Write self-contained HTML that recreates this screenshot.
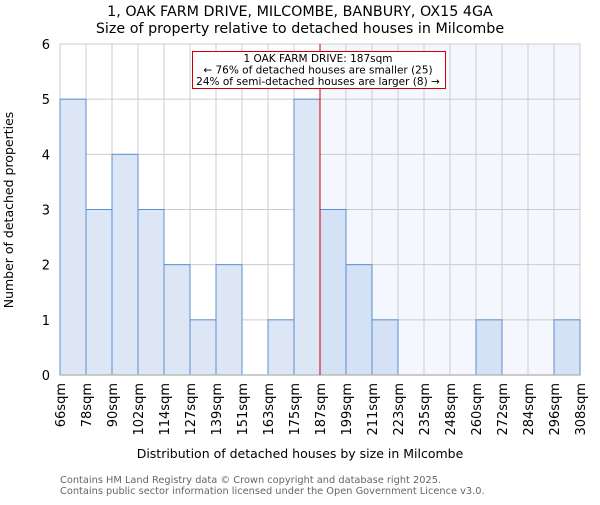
<!DOCTYPE html>
<html><head><meta charset="utf-8"><style>
body{margin:0;background:#fff;}
svg text{font-family:"DejaVu Sans","Liberation Sans",sans-serif;}
</style></head><body>
<svg id="chart" width="600" height="500" xmlns="http://www.w3.org/2000/svg">
<text x="300" y="16" text-anchor="middle" font-size="14.3">1, OAK FARM DRIVE, MILCOMBE, BANBURY, OX15 4GA</text>
<text x="300" y="33" text-anchor="middle" font-size="14.3">Size of property relative to detached houses in Milcombe</text>
<g id="plot"></g>
<text x="300" y="458" text-anchor="middle" font-size="12.5">Distribution of detached houses by size in Milcombe</text>
<text transform="translate(13,210) rotate(-90)" text-anchor="middle" font-size="12.5">Number of detached properties</text>
<text x="60" y="483" font-size="9.8" fill="#666">Contains HM Land Registry data © Crown copyright and database right 2025.</text>
<text x="60" y="494" font-size="9.8" fill="#666">Contains public sector information licensed under the Open Government Licence v3.0.</text>
</svg>
<script>
const binLabels=["66sqm","78sqm","90sqm","102sqm","114sqm","127sqm","139sqm","151sqm","163sqm","175sqm","187sqm","199sqm","211sqm","223sqm","235sqm","248sqm","260sqm","272sqm","284sqm","296sqm","308sqm"];
const counts=[5,3,4,3,2,1,2,0,1,5,3,2,1,0,0,0,1,0,0,1];
const yTicks=[0,1,2,3,4,5,6];
const markerIndex=10;
const NS="http://www.w3.org/2000/svg";
const X0=60,X1=580,Y0=375,Y1=44,YMAX=6;
const n=counts.length;
const xs=i=>X0+(X1-X0)*i/n;
const ys=v=>Y0-(Y0-Y1)*v/YMAX;
const g=document.getElementById('plot');
function mk(t,a){const e=document.createElementNS(NS,t);for(const k in a)e.setAttribute(k,a[k]);g.appendChild(e);return e;}
let e=mk('rect',{x:xs(markerIndex),y:Y1,width:X1-xs(markerIndex),height:Y0-Y1,fill:'#f4f7fd'});


yTicks.forEach(v=>{
 let l=mk('line',{x1:X0,x2:X1,y1:ys(v),y2:ys(v),stroke:'#cccccc','stroke-width':1});
 
 
 let t=mk('text',{x:X0-10,y:ys(v)+5,'text-anchor':'end','font-size':13});
 t.textContent=v;
 
 
});
binLabels.forEach((lab,i)=>{
 let l=mk('line',{x1:xs(i),x2:xs(i),y1:Y1,y2:Y0,stroke:'#cccccc','stroke-width':1});
 
 
 let t=mk('text',{transform:`translate(${xs(i)+5},${Y0+8}) rotate(-90)`,'text-anchor':'end','font-size':13});
 t.textContent=lab;
 
 
});
counts.forEach((c,i)=>{
 if(c<=0)return;
 let r=mk('rect',{x:xs(i),y:ys(c),width:xs(i+1)-xs(i),height:Y0-ys(c),fill:i>=markerIndex?'#d5e1f4':'#dce6f5',stroke:'#5b8fd4','stroke-width':1});
 
 
});
e=mk('line',{x1:X0,x2:X1,y1:Y0,y2:Y0,stroke:'#bbbbbb','stroke-width':1.5});


e=mk('line',{x1:xs(markerIndex),x2:xs(markerIndex),y1:Y1,y2:Y0,stroke:'#cc0000','stroke-width':1});


e=mk('rect',{x:192.5,y:51.5,width:253,height:37,fill:'#fff',stroke:'#cc0000','stroke-width':1});


["1 OAK FARM DRIVE: 187sqm","← 76% of detached houses are smaller (25)","24% of semi-detached houses are larger (8) →"].forEach((s,k)=>{
 let t=mk('text',{x:318,y:62+k*11.5,'text-anchor':'middle','font-size':10.5});
 t.textContent=s;
 
 
});
</script>
</body></html>
